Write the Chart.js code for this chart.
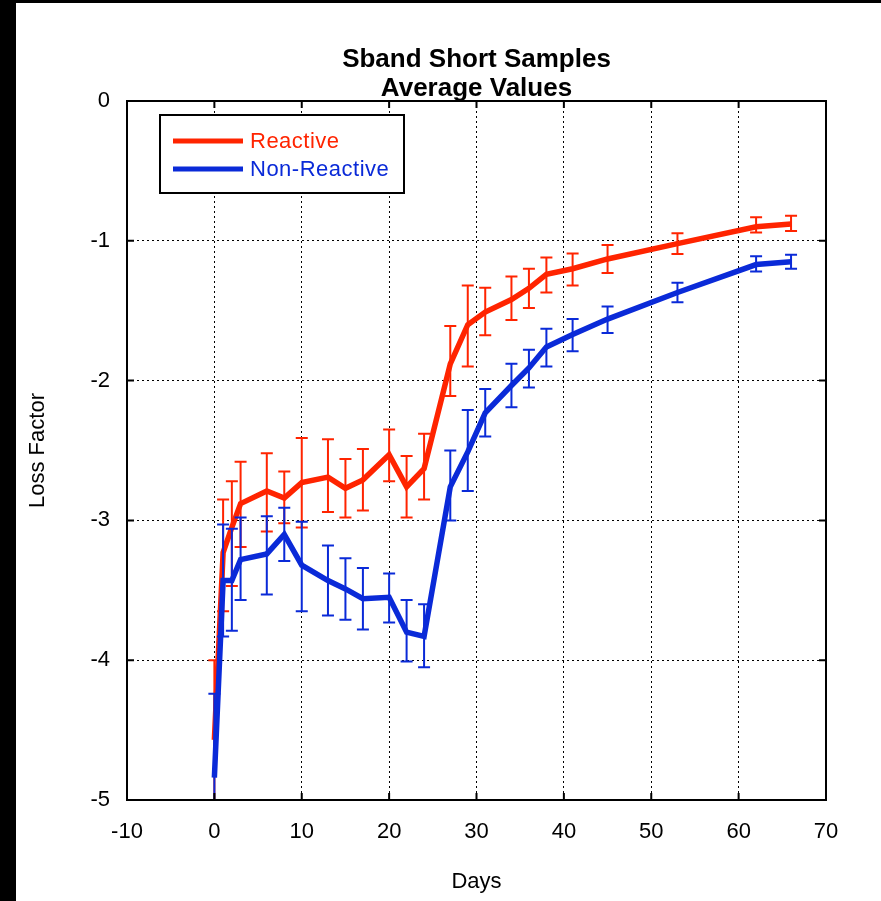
<!DOCTYPE html>
<html>
<head>
<meta charset="utf-8">
<script src="https://cdn.jsdelivr.net/npm/chart.js@4"></script>
<style>
  body { margin: 0; background: #fff; }
  #wrap { position: relative; width: 881px; height: 901px; }
  #bandLeft { position: absolute; left: 0; top: 0; width: 16px; height: 901px; background: #000; }
  #bandTop { position: absolute; left: 0; top: 0; width: 881px; height: 3px; background: #000; }
</style>
</head>
<body>
<div id="wrap">
  <canvas id="grafica_loss" width="881" height="901"></canvas>
  <div id="bandLeft"></div>
  <div id="bandTop"></div>
</div>
<script>
// --datos
var dias = [0, 1, 2, 3, 6, 8, 10, 13, 15, 17, 20, 22, 24, 27, 29, 31, 34, 36, 38, 41, 45, 53, 62, 66];

var reactivo     = [-4.57, -3.23, -3.05, -2.88, -2.79, -2.84, -2.73, -2.69, -2.77, -2.71, -2.53, -2.76, -2.63, -1.88, -1.60, -1.51, -1.42, -1.34, -1.24, -1.20, -1.13, -1.02, -0.90, -0.88];
var reactivoAlto = [-4.00, -2.85, -2.72, -2.58, -2.52, -2.65, -2.41, -2.42, -2.56, -2.49, -2.35, -2.54, -2.38, -1.61, -1.32, -1.335, -1.256, -1.20, -1.12, -1.09, -1.03, -0.946, -0.832, -0.82];
var reactivoBajo = [-5.15, -3.65, -3.47, -3.19, -3.08, -3.02, -3.05, -2.94, -2.98, -2.93, -2.72, -2.98, -2.85, -2.11, -1.90, -1.675, -1.566, -1.48, -1.37, -1.32, -1.23, -1.094, -0.94, -0.93];

var noReactivo     = [-4.84, -3.43, -3.43, -3.28, -3.24, -3.10, -3.32, -3.43, -3.49, -3.56, -3.55, -3.80, -3.83, -2.76, -2.51, -2.23, -2.035, -1.91, -1.76, -1.67, -1.56, -1.37, -1.17, -1.15];
var noReactivoAlto = [-4.24, -3.03, -3.06, -2.98, -2.97, -2.91, -3.01, -3.18, -3.27, -3.34, -3.38, -3.57, -3.60, -2.50, -2.21, -2.06, -1.88, -1.78, -1.63, -1.56, -1.47, -1.30, -1.11, -1.10];
var noReactivoBajo = [-5.42, -3.83, -3.79, -3.57, -3.53, -3.29, -3.65, -3.68, -3.71, -3.78, -3.73, -4.01, -4.05, -3.00, -2.79, -2.40, -2.19, -2.05, -1.90, -1.79, -1.66, -1.44, -1.22, -1.20];

var ticksX = [-10, 0, 10, 20, 30, 40, 50, 60, 70];
var ticksY = [-5, -4, -3, -2, -1, 0];

var rojo = '#ff2400';
var azul = '#0a2ad8';
var fuente = 'Liberation Sans, Arial, sans-serif';

function puntos(xs, ys){
    var arr = [];
    for (var i = 0; i < xs.length; i++) arr.push({x: xs[i], y: ys[i]});
    return arr;
}

// barras de error, se pintan antes de la linea de cada serie
var errorBars = {
    id: 'errorBars',
    beforeDatasetDraw: function(chart, args){
        var ds = chart.data.datasets[args.index];
        if (!ds.alto) return;
        var ctx = chart.ctx;
        var xs = chart.scales.x, ys = chart.scales.y;
        var a = chart.chartArea;
        ctx.save();
        ctx.beginPath();
        ctx.rect(a.left, a.top, a.right - a.left, a.bottom - a.top);
        ctx.clip();
        ctx.strokeStyle = ds.borderColor;
        ctx.lineWidth = 2;
        ds.data.forEach(function(p, i){
            var px = xs.getPixelForValue(p.x);
            var yt = ys.getPixelForValue(ds.alto[i]);
            var yb = ys.getPixelForValue(ds.bajo[i]);
            ctx.beginPath();
            ctx.moveTo(px, yt); ctx.lineTo(px, yb);
            ctx.moveTo(px - 6, yt); ctx.lineTo(px + 6, yt);
            ctx.moveTo(px - 6, yb); ctx.lineTo(px + 6, yb);
            ctx.stroke();
        });
        ctx.restore();
    }
};

// marco con marcas hacia adentro
var marco = {
    id: 'marco',
    afterDatasetsDraw: function(chart){
        var ctx = chart.ctx;
        var a = chart.chartArea;
        var xs = chart.scales.x, ys = chart.scales.y;
        ctx.save();
        ctx.strokeStyle = '#000';
        ctx.lineWidth = 2;
        ctx.strokeRect(a.left, a.top, a.right - a.left, a.bottom - a.top);
        ctx.beginPath();
        ticksX.forEach(function(v){
            var px = xs.getPixelForValue(v);
            ctx.moveTo(px, a.top); ctx.lineTo(px, a.top + 7);
            ctx.moveTo(px, a.bottom); ctx.lineTo(px, a.bottom - 7);
        });
        ticksY.forEach(function(v){
            var py = ys.getPixelForValue(v);
            ctx.moveTo(a.left, py); ctx.lineTo(a.left + 7, py);
            ctx.moveTo(a.right, py); ctx.lineTo(a.right - 7, py);
        });
        ctx.stroke();

        // leyenda
        var lx = 160, ly = 115, lw = 244, lh = 78;
        ctx.fillStyle = '#fff';
        ctx.fillRect(lx, ly, lw, lh);
        ctx.strokeRect(lx, ly, lw, lh);
        ctx.font = '22px ' + fuente;
        ctx.letterSpacing = '0.5px';
        ctx.textBaseline = 'middle';
        chart.data.datasets.forEach(function(ds, i){
            var yy = ly + 26 + i * 28;
            ctx.strokeStyle = ds.borderColor;
            ctx.lineWidth = 5;
            ctx.beginPath();
            ctx.moveTo(lx + 13, yy); ctx.lineTo(lx + 83, yy);
            ctx.stroke();
            ctx.fillStyle = ds.borderColor;
            ctx.fillText(ds.label, lx + 90, yy + 1);
        });
        ctx.restore();
    }
};

var lossCanvas = document.getElementById("grafica_loss");

var reactivoData = {
    label: 'Reactive',
    data: puntos(dias, reactivo),
    alto: reactivoAlto,
    bajo: reactivoBajo,
    borderColor: rojo,
    backgroundColor: rojo,
    borderWidth: 5.5,
    pointRadius: 0,
    tension: 0,
    order: 1
};

var noReactivoData = {
    label: 'Non-Reactive',
    data: puntos(dias, noReactivo),
    alto: noReactivoAlto,
    bajo: noReactivoBajo,
    borderColor: azul,
    backgroundColor: azul,
    borderWidth: 5.5,
    pointRadius: 0,
    tension: 0,
    order: 0
};

var chartOptions = {
    responsive: false,
    animation: false,
    layout: { padding: { left: 0, right: 55, top: 0, bottom: 0 } },
    plugins: {
        legend: { display: false },
        tooltip: { enabled: false },
        title: {
            display: true,
            fullSize: false,
            text: ['Sband Short Samples', 'Average Values'],
            color: '#000',
            font: { family: fuente, size: 26, weight: 'bold', lineHeight: 29 / 26 },
            padding: { top: 45, bottom: -2 }
        }
    },
    scales: {
        x: {
            type: 'linear',
            min: -10,
            max: 70,
            afterBuildTicks: function(scale){
                scale.ticks = ticksX.map(function(v){ return {value: v}; });
            },
            afterFit: function(scale){ scale.height = 101; },
            grid: { color: '#000', lineWidth: 1, drawTicks: false },
            border: { display: false, dash: [2, 3] },
            ticks: { color: '#000', padding: 19, font: { family: fuente, size: 22 } },
            title: {
                display: true,
                text: 'Days',
                color: '#000',
                font: { family: fuente, size: 22 },
                padding: { top: 0, bottom: 6 }
            }
        },
        y: {
            type: 'linear',
            min: -5,
            max: 0,
            afterBuildTicks: function(scale){
                scale.ticks = ticksY.map(function(v){ return {value: v}; });
            },
            afterFit: function(scale){ scale.width = 127; },
            grid: { color: '#000', lineWidth: 1, drawTicks: false },
            border: { display: false, dash: [2, 3] },
            ticks: { color: '#000', padding: 17, font: { family: fuente, size: 22 } },
            title: {
                display: true,
                text: 'Loss Factor',
                color: '#000',
                font: { family: fuente, size: 22 },
                padding: { top: 25, bottom: 0 }
            }
        }
    }
};

var lossChart = new Chart(lossCanvas, {
    type: 'line',
    data: { datasets: [reactivoData, noReactivoData] },
    options: chartOptions,
    plugins: [errorBars, marco]
});
</script>
</body>
</html>
